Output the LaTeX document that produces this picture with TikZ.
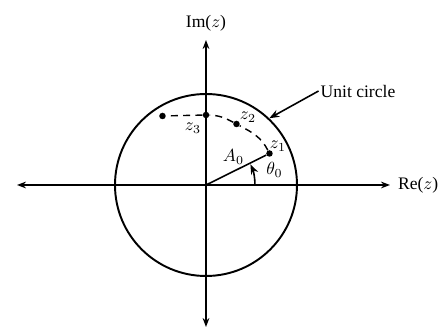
\documentclass[tikz,border=0pt]{standalone}
\usepackage{fontspec}
\setmainfont{Liberation Serif}
\usetikzlibrary{positioning,arrows.meta}
\tikzset{
  axis/.style={{Stealth[length=1.8mm]}-{Stealth[length=1.8mm]}, line width=1.1pt},
  ring/.style={line width=1.1pt},
  pt/.style={circle, fill, inner sep=0pt, minimum size=1.3mm},
  spiral/.style={line width=0.8pt, dash pattern=on 4pt off 3pt},
  lbl/.style={font=\normalsize, inner sep=1pt},
  pointer/.style={-{Stealth[length=2mm]}, line width=0.9pt},
}

\begin{document}
\begin{tikzpicture}
\useasboundingbox (-4.12,-2.88) rectangle (4.70,3.70);

% axes and unit circle
\coordinate (o) at (0,0);
\coordinate (xl) at (-3.78,0);
\coordinate (xr) at (3.68,0);
\coordinate (yt) at (0,2.90);
\coordinate (yb) at (0,-2.84);
\draw[axis] (xl) -- (xr);
\draw[axis] (yb) -- (yt);
\draw[ring] (o) circle (1.82);

\node[lbl] (im) at (0,3.24) {Im($z$)};
\node[lbl, right=0.12cm of xr] (re) {Re($z$)};

% points on the contour
\node[pt] (p1) at (1.27,0.63) {};
\node[pt] (p2) at (0.61,1.22) {};
\node[pt] (p0) at (0,1.40) {};
\node[pt] (p3) at (-0.87,1.38) {};
\draw[spiral] (p1) to[out=117,in=-28] (p2) to[out=152,in=-2] (p0) -- (p3);

\node[lbl] (z1) at (1.44,0.78) {$z_1$};
\node[lbl] (z2) at (0.84,1.36) {$z_2$};
\node[lbl] (z3) at (-0.26,1.13) {$z_3$};

% radius and angle
\draw[line width=0.9pt] (o) -- (p1);
\node[lbl] (a0) at (0.55,0.56) {$A_0$};
\draw[pointer] (0.98,0) arc[start angle=0, end angle=25, radius=0.98];
\node[lbl] (th) at (1.37,0.30) {$\theta_0$};

% label of the circle
\node[lbl] (uc) at (3.04,1.88) {Unit circle};
\draw[pointer] (uc.west) -- (46.5:1.84);

\end{tikzpicture}
\end{document}
